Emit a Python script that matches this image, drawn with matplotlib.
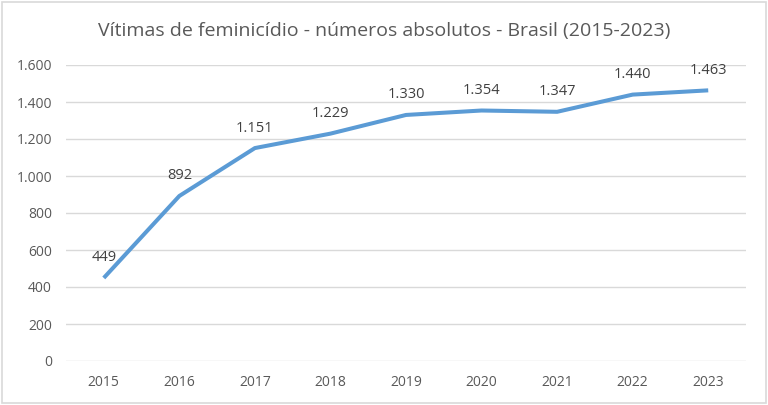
import matplotlib
matplotlib.use("Agg")
from matplotlib import pyplot as plt
from matplotlib.patches import Rectangle

anos = ["2015", "2016", "2017", "2018", "2019", "2020", "2021", "2022", "2023"]
vitimas = [449, 892, 1151, 1229, 1330, 1354, 1347, 1440, 1463]
yticks = [0, 200, 400, 600, 800, 1000, 1200, 1400, 1600]

def fmt(v):
    return "{:,}".format(v).replace(",", ".")

plt.rcParams['font.family'] = ['Open Sans', 'DejaVu Sans']

W, H = 768, 405
fig = plt.figure(figsize=(W/100, H/100), dpi=100)
# plot area in pixels: x 66..746, y 65..361
ax = fig.add_axes([66/W, 1-361/H, 680/W, 296/H])

x = list(range(len(anos)))
ax.plot(x, vitimas, color="#5B9BD5", lw=2.9, solid_capstyle="butt", solid_joinstyle="round", zorder=3)
for xi, v in zip(x, vitimas):
    ax.annotate(fmt(v), (xi, v), xytext=(0, 9), textcoords="offset points",
                ha="center", va="bottom", fontsize=10.5, color="#404040")

ax.set_xlim(-0.5, len(anos) - 0.5)
ax.set_ylim(0, 1600)
ax.set_yticks(yticks)
ax.set_yticklabels([fmt(t) for t in yticks])
ax.set_xticks(x)
ax.set_xticklabels(anos)
ax.tick_params(axis="both", length=0, labelsize=10, colors="#595959")
ax.tick_params(axis="y", pad=10)
ax.tick_params(axis="x", pad=10)
ax.grid(axis="y", color="#D9D9D9", lw=1)
ax.set_axisbelow(True)
for s in ax.spines.values():
    s.set_visible(False)

fig.text(0.5, 1-31/H, "Vítimas de feminicídio - números absolutos - Brasil (2015-2023)",
         ha="center", va="center", fontsize=14, color="#595959")

fig.patches.append(Rectangle((2/W, 2/H), 1-4/W, 1-4/H, transform=fig.transFigure,
                             fill=False, edgecolor="#D9D9D9", lw=1.2))

fig.savefig("out.png", dpi=100)
